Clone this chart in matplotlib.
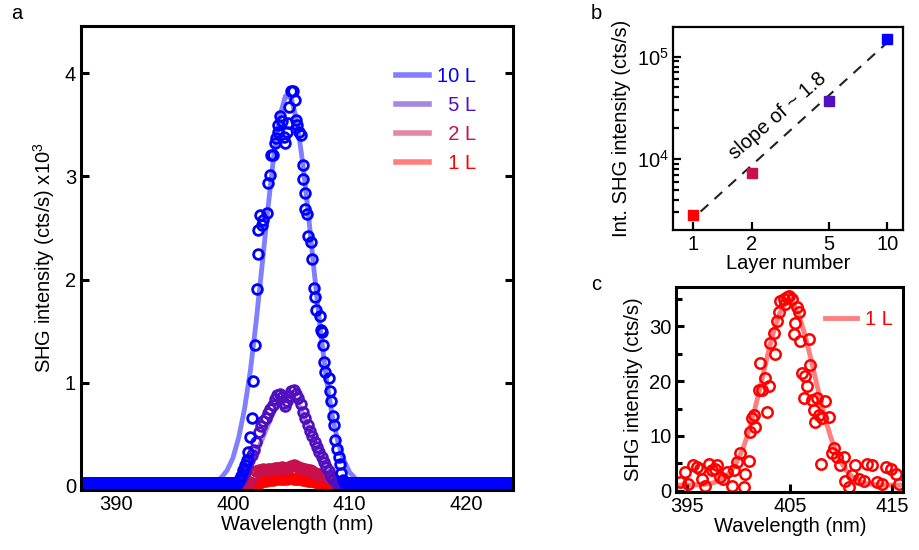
import numpy as np
import matplotlib
matplotlib.use("Agg")
import matplotlib.pyplot as plt
from matplotlib.lines import Line2D
from matplotlib.ticker import FixedLocator, FixedFormatter, NullFormatter, NullLocator

plt.rcParams["font.family"] = ["Liberation Sans", "DejaVu Sans"]
plt.rcParams["mathtext.fontset"] = "custom"
plt.rcParams["mathtext.rm"] = "Liberation Sans"
plt.rcParams["mathtext.it"] = "Liberation Sans:italic"
plt.rcParams["font.size"] = 14.5

BLUE = "#0000ff"
PURPLE = "#5010c0"
CRIMSON = "#c8104c"
RED = "#ff0000"

# ---- panel a: SHG spectra (intensity in 10^3 cts/s) ----
wl_10 = [400.52, 400.69, 400.89, 401.03, 401.18, 401.32, 401.46, 401.60, 401.75, 401.89,
         402.03, 402.12, 402.18, 402.32, 402.46, 402.60, 402.88, 403.03, 403.17, 403.25,
         403.45, 403.60, 403.68, 403.82, 403.88, 404.02, 404.16, 404.39, 404.45, 404.59,
         404.73, 404.79, 404.96, 405.16, 405.30, 405.36, 405.50, 405.67, 405.79, 405.96,
         406.02, 406.16, 406.21, 406.30, 406.44, 406.67, 406.78, 406.95, 407.06, 407.15,
         407.43, 407.58, 407.66, 407.72, 407.80, 407.92, 408.20, 408.29, 408.43, 408.58,
         408.63, 408.72, 408.94, 409.06, 409.14, 409.28, 409.43]
int_10 = [0.06, 0.10, 0.15, 0.20, 0.25, 0.33, 0.47, 0.66, 1.02, 1.37,
          1.91, 2.25, 2.48, 2.63, 2.53, 2.58, 2.65, 2.94, 3.01, 3.21,
          3.21, 3.32, 3.37, 3.43, 3.50, 3.59, 3.54, 3.38, 3.32, 3.43,
          3.52, 3.67, 3.83, 3.83, 3.74, 3.55, 3.50, 3.43, 3.40, 3.11,
          2.98, 2.84, 2.68, 2.64, 2.42, 2.36, 2.20, 1.92, 1.83, 1.71,
          1.65, 1.51, 1.49, 1.37, 1.20, 1.10, 1.05, 0.92, 0.82, 0.68,
          0.59, 0.45, 0.36, 0.28, 0.21, 0.13, 0.06]

wl_5 = [400.4, 400.6, 400.8, 401.0, 401.2, 401.4, 401.6, 401.8, 402.0, 402.2,
        402.4, 402.6, 402.8, 403.0, 403.2, 403.4, 403.6, 403.8, 404.0, 404.2,
        404.4, 404.5, 404.6, 404.8, 405.0, 405.2, 405.4, 405.6, 405.8, 406.0,
        406.2, 406.4, 406.6, 406.8, 407.0, 407.2, 407.4, 407.6, 407.8, 408.0,
        408.2, 408.4, 408.6, 408.8, 409.0, 409.2]
int_5 = [0.02, 0.05, 0.09, 0.14, 0.20, 0.25, 0.30, 0.35, 0.43, 0.52,
         0.58, 0.63, 0.66, 0.71, 0.75, 0.78, 0.84, 0.88, 0.89, 0.86,
         0.80, 0.77, 0.82, 0.87, 0.92, 0.93, 0.89, 0.85, 0.79, 0.72,
         0.66, 0.59, 0.53, 0.48, 0.43, 0.38, 0.33, 0.28, 0.23, 0.18,
         0.14, 0.10, 0.07, 0.04, 0.02, 0.01]

wl_2 = [401.4, 401.6, 401.8, 402.0, 402.2, 402.4, 402.6, 402.8, 403.0, 403.2,
        403.4, 403.6, 403.8, 404.0, 404.2, 404.4, 404.6, 404.8, 405.0, 405.2,
        405.4, 405.6, 405.8, 406.0, 406.2, 406.4, 406.6, 406.8, 407.0, 407.2,
        407.4, 407.6, 407.8, 408.0, 408.2, 408.4, 408.6, 408.8, 409.0, 409.2]
int_2 = [0.03, 0.08, 0.12, 0.14, 0.15, 0.15, 0.16, 0.15, 0.16, 0.16,
         0.16, 0.17, 0.17, 0.17, 0.18, 0.17, 0.17, 0.18, 0.19, 0.20,
         0.19, 0.18, 0.17, 0.16, 0.16, 0.15, 0.15, 0.14, 0.13, 0.12,
         0.12, 0.11, 0.10, 0.09, 0.08, 0.07, 0.06, 0.05, 0.04, 0.02]

wl_1 = [401.8, 402.0, 402.2, 402.4, 402.6, 402.8, 403.0, 403.2, 403.4, 403.6,
        403.8, 404.0, 404.2, 404.4, 404.6, 404.8, 405.0, 405.2, 405.4, 405.6,
        405.8, 406.0, 406.2, 406.4, 406.6, 406.8, 407.0, 407.2, 407.4, 407.6,
        407.8, 408.0, 408.2]
int_1 = [0.01, 0.02, 0.03, 0.04, 0.045, 0.05, 0.055, 0.06, 0.06, 0.065,
         0.065, 0.07, 0.07, 0.065, 0.07, 0.075, 0.075, 0.07, 0.07, 0.065,
         0.065, 0.06, 0.055, 0.05, 0.05, 0.045, 0.04, 0.035, 0.03, 0.025,
         0.02, 0.015, 0.01]

# flat background (all series)
scan_wl = np.arange(387.0, 424.01, 0.12)
base_level = 0.03

# Gaussian fit curves as drawn (read at 0.5 nm steps)
fit_wl_a = [398.5, 399.0, 399.5, 400.0, 400.5, 401.0, 401.5, 402.0, 402.5, 403.0,
            403.5, 404.0, 404.5, 405.0, 405.5, 406.0, 406.5, 407.0, 407.5, 408.0,
            408.5, 409.0, 409.5, 410.0, 410.5, 411.0]
fit_10 = [0.04, 0.08, 0.15, 0.27, 0.47, 0.75, 1.12, 1.60, 2.14, 2.69,
          3.20, 3.58, 3.78, 3.76, 3.52, 3.11, 2.59, 2.03, 1.50, 1.04,
          0.68, 0.42, 0.25, 0.13, 0.07, 0.03]
fit_5 = [0.0, 0.01, 0.02, 0.04, 0.08, 0.13, 0.21, 0.32, 0.45, 0.59,
         0.72, 0.82, 0.875, 0.87, 0.81, 0.70, 0.56, 0.42, 0.30, 0.19,
         0.12, 0.07, 0.04, 0.02, 0.01, 0.0]

legend_labels = ["10 L", "  5 L", "  2 L", "  1 L"]

# ---- panel b: integrated SHG vs layer number ----
layers = [1, 2, 5, 10]
int_shg = [2840, 7300, 37100, 150000]
layer_colors = [RED, CRIMSON, PURPLE, BLUE]
slope_x = [1.09, 10.1]
slope_y = [3050, 140000]

# ---- panel c: 1 L spectrum (cts/s) ----
wl_c = [394.28, 394.77, 395.10, 395.59, 395.91, 396.24, 396.40, 396.73, 397.06, 397.38,
        397.71, 397.87, 398.20, 398.52, 398.85, 399.34, 399.50, 399.83, 400.15, 400.48,
        400.64, 400.97, 401.13, 401.30, 401.46, 401.62, 401.95, 402.11, 402.28, 402.60,
        402.77, 402.93, 403.10, 403.42, 403.58, 403.74, 403.91, 404.07, 404.40, 404.56,
        404.72, 404.88, 405.20, 405.37, 405.53, 405.70, 405.86, 406.03, 406.19, 406.35,
        406.52, 406.68, 406.84, 407.01, 407.17, 407.33, 407.50, 407.66, 407.82, 408.00,
        408.15, 408.47, 408.80, 409.13, 409.29, 409.62, 409.94, 410.27, 410.43, 410.76,
        411.08, 411.41, 411.73, 412.22, 412.55, 413.04, 413.53, 414.02, 414.35, 414.84,
        415.33, 415.65]
int_c = [1.5, 3.4, 1.2, 4.6, 4.3, 4.0, 2.2, 0.9, 4.9, 3.7,
         4.0, 4.6, 2.5, 2.2, 3.4, 0.9, 3.7, 5.2, 6.8, 0.6,
         3.1, 5.5, 10.8, 13.2, 13.8, 11.7, 18.4, 23.4, 18.4, 20.6,
         14.4, 19.1, 27.0, 28.9, 24.9, 31.0, 32.6, 34.7, 35.0, 34.1,
         35.3, 35.6, 35.0, 28.6, 30.7, 33.5, 32.6, 27.4, 21.5, 16.9,
         20.9, 19.1, 27.7, 23.0, 16.6, 14.8, 12.6, 16.9, 13.8, 4.9,
         13.2, 16.3, 13.5, 6.8, 7.7, 6.1, 4.6, 6.1, 1.8, 0.6,
         2.8, 4.6, 2.2, 1.8, 4.9, 4.6, 1.5, 1.2, 4.3, 4.0,
         3.1, 1.2]
fit_wl_c = [394.0, 394.5, 395.0, 395.5, 396.0, 396.5, 397.0, 397.5, 398.0, 398.5,
            399.0, 399.5, 400.0, 400.5, 401.0, 401.5, 402.0, 402.5, 403.0, 403.5,
            404.0, 404.5, 405.0, 405.5, 406.0, 406.5, 407.0, 407.5, 408.0, 408.5,
            409.0, 409.5, 410.0, 410.5, 411.0, 411.5, 412.0, 412.5, 413.0, 413.5,
            414.0, 414.5, 415.0, 415.5, 416.0]
fit_c = [1.0, 1.0, 1.01, 1.03, 1.06, 1.12, 1.23, 1.42, 1.74, 2.26,
         3.07, 4.25, 5.91, 8.12, 10.92, 14.29, 18.09, 22.13, 26.09, 29.64,
         32.39, 34.07, 34.47, 33.55, 31.41, 28.30, 24.54, 20.51, 16.53, 12.88,
         9.73, 7.16, 5.18, 3.73, 2.71, 2.03, 1.60, 1.33, 1.18, 1.09,
         1.04, 1.02, 1.01, 1.0, 1.0]


def style_axes(ax, lw=2.0):
    for s in ax.spines.values():
        s.set_linewidth(lw)
    ax.tick_params(which="both", direction="in", width=lw, labelsize=14.5)
    ax.tick_params(which="major", length=6)
    ax.tick_params(which="minor", length=4)


fig = plt.figure(figsize=(9.2, 5.5), dpi=100)

# panel a
ax_a = fig.add_axes([0.088, 0.109, 0.470, 0.844])
series = [(wl_1, int_1, RED), (wl_2, int_2, CRIMSON), (wl_5, int_5, PURPLE), (wl_10, int_10, BLUE)]
for wl, val, col in series:
    if col == PURPLE:
        ax_a.plot(fit_wl_a, fit_5, color=col, alpha=0.5, lw=3.5)
    if col == BLUE:
        ax_a.plot(fit_wl_a, fit_10, color=col, alpha=0.5, lw=3.5)
    bg = scan_wl[(scan_wl < wl[0] - 0.1) | (scan_wl > wl[-1] + 0.1)]
    xs = np.concatenate([bg, wl])
    ys = np.concatenate([np.full(bg.size, base_level), val])
    ax_a.plot(xs, ys, "o", ms=7, mfc="none", mec=col, mew=2.0)

ax_a.set_xlim(387, 424)
ax_a.set_ylim(-0.04, 4.46)
ax_a.set_xticks([390, 400, 410, 420])
ax_a.set_yticks([0, 1, 2, 3, 4])
ax_a.tick_params(right=True)
style_axes(ax_a, 2.2)
ax_a.set_xlabel("Wavelength (nm)", labelpad=1)
ax_a.set_ylabel("SHG intensity (cts/s) x10$^3$", labelpad=6)

handles = [Line2D([], [], color=c, alpha=0.5, lw=4) for c in [BLUE, PURPLE, CRIMSON, RED]]
ax_a.legend(handles, legend_labels, loc="upper right", bbox_to_anchor=(0.955, 0.95),
            frameon=False, handlelength=1.6, handletextpad=0.4, labelspacing=0.5,
            labelcolor=[BLUE, PURPLE, CRIMSON, RED], fontsize=14.5)

# panel b
ax_b = fig.add_axes([0.732, 0.582, 0.250, 0.369])
ax_b.plot(slope_x, slope_y, color="#222222", lw=1.5, ls=(0, (5, 4)))
for x, y, c in zip(layers, int_shg, layer_colors):
    ax_b.plot([x], [y], "s", ms=7.5, color=c, mec=c)
ax_b.set_xscale("log")
ax_b.set_yscale("log")
ax_b.set_xlim(0.79, 12.1)
ax_b.set_ylim(2020, 1.95e5)
ax_b.xaxis.set_major_locator(FixedLocator(layers))
ax_b.xaxis.set_major_formatter(FixedFormatter([str(v) for v in layers]))
ax_b.xaxis.set_minor_locator(NullLocator())
ax_b.yaxis.set_minor_formatter(NullFormatter())
style_axes(ax_b, 1.6)
ax_b.set_xlabel("Layer number", labelpad=0)
ax_b.set_ylabel("Int. SHG intensity (cts/s)", labelpad=4)
ax_b.text(2.72, 26300, "slope of ~ 1.8", rotation=41, ha="center", va="center",
          rotation_mode="anchor", fontsize=14.5)

# panel c
ax_c = fig.add_axes([0.735, 0.105, 0.247, 0.373])
ax_c.plot(fit_wl_c, fit_c, color=RED, alpha=0.5, lw=3.5, label="1 L")
ax_c.plot(wl_c, int_c, "o", ms=7.5, mfc="none", mec=RED, mew=1.8)
ax_c.set_xlim(393.9, 416.1)
ax_c.set_ylim(-0.3, 37.2)
ax_c.set_xticks([395, 405, 415])
ax_c.set_yticks([0, 10, 20, 30])
ax_c.set_yticks([5, 15, 25, 35], minor=True)
style_axes(ax_c, 2.2)
ax_c.set_xlabel("Wavelength (nm)", labelpad=1)
ax_c.set_ylabel("SHG intensity (cts/s)", labelpad=4)
ax_c.legend(loc="upper right", bbox_to_anchor=(1.035, 0.975), frameon=False, handlelength=1.6,
            handletextpad=0.4, labelcolor=[RED], fontsize=14.5)

fig.text(0.012, 0.975, "a", fontsize=14.5, va="center")
fig.text(0.642, 0.975, "b", fontsize=14.5, va="center")
fig.text(0.642, 0.482, "c", fontsize=14.5, va="center")

fig.savefig("out.png", dpi=100)
